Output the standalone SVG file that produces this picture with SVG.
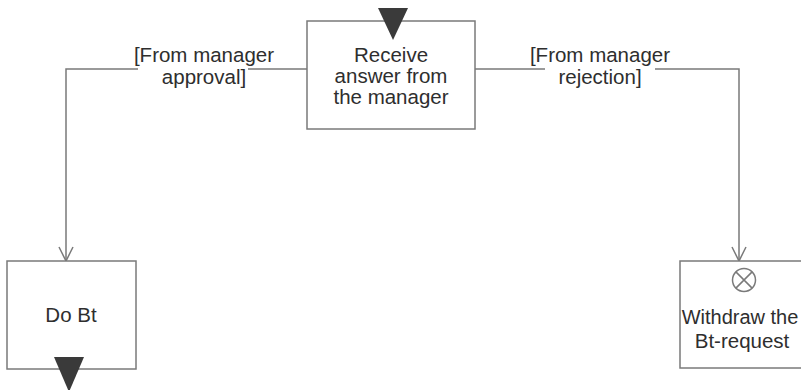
<svg xmlns="http://www.w3.org/2000/svg" width="801" height="390" viewBox="0 0 801 390">
<defs>
<style>
.box{fill:#fff;stroke:#7a7a7a;stroke-width:1.5}
.edge{fill:none;stroke:#7a7a7a;stroke-width:1.5}
.t{font-family:"Liberation Sans",Arial,sans-serif;font-size:20.5px;fill:#2e2e2e;text-anchor:middle}
.tri{fill:#3a3a3a}
</style>
<marker id="arr" markerWidth="18" markerHeight="18" refX="15" refY="8" orient="auto" markerUnits="userSpaceOnUse">
<path d="M1,1 L15,8 L1,15" fill="none" stroke="#7a7a7a" stroke-width="1.5"/>
</marker>
</defs>
<rect width="801" height="390" fill="#fff"/>
<g id="connectors">
<path class="edge" d="M307,69 H66 V261" marker-end="url(#arr)"/>
<path class="edge" d="M475,69 H739 V261" marker-end="url(#arr)"/>
<rect x="138" y="44" width="110" height="48" fill="#fff"/>
<rect x="545" y="44" width="110" height="48" fill="#fff"/>
<text class="t" x="204" y="62">[From manager</text>
<text class="t" x="204" y="84">approval]</text>
<text class="t" x="600" y="62">[From manager</text>
<text class="t" x="600" y="84">rejection]</text>
</g>
<g id="receive">
<rect class="box" x="307" y="21" width="168" height="108"/>
<polygon class="tri" points="378,8 408,8 393,40"/>
<text class="t" x="391" y="62">Receive</text>
<text class="t" x="391" y="83">answer from</text>
<text class="t" x="391" y="104">the manager</text>
</g>
<g id="dobt">
<rect class="box" x="7" y="261" width="129" height="108"/>
<text class="t" x="71" y="322">Do Bt</text>
<polygon class="tri" points="54,357 84,357 69,392"/>
</g>
<g id="withdraw">
<rect class="box" x="680" y="261" width="130" height="107"/>
<circle cx="744" cy="280" r="11.5" fill="none" stroke="#7a7a7a" stroke-width="1.5"/>
<path d="M735.9,271.9 L752.1,288.1 M752.1,271.9 L735.9,288.1" stroke="#7a7a7a" stroke-width="1.5"/>
<text class="t" x="740" y="324" style="font-size:20px">Withdraw the</text>
<text class="t" x="742" y="348">Bt-request</text>
</g>
</svg>
